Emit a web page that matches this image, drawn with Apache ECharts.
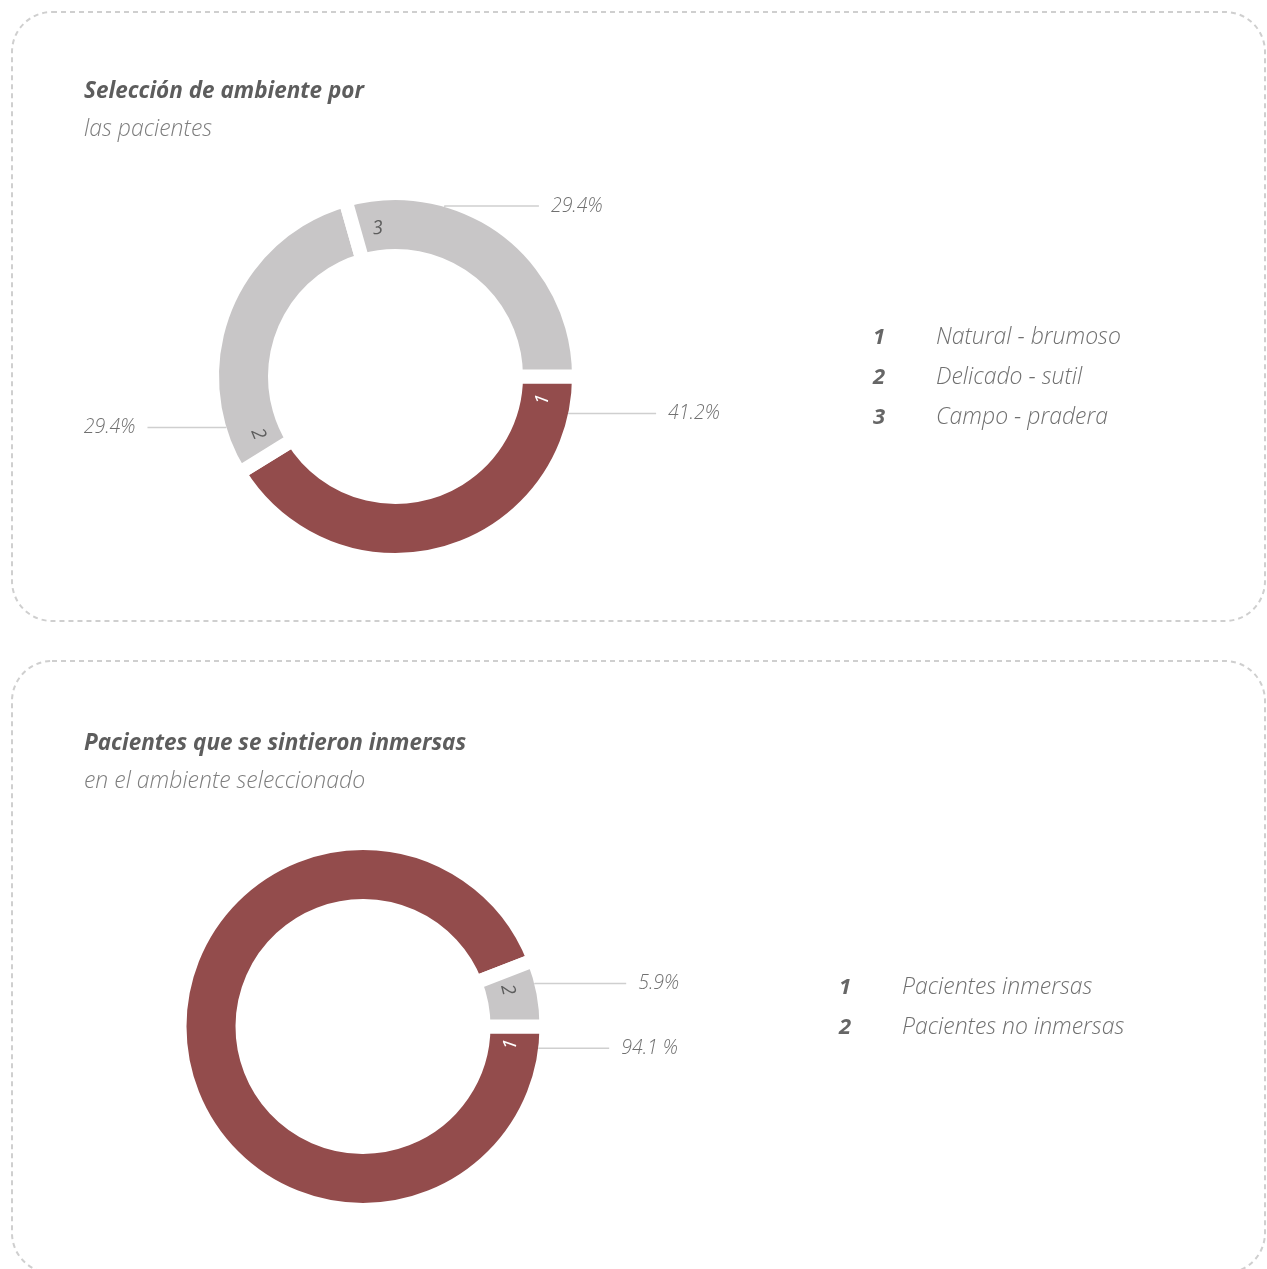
<!DOCTYPE html>
<html>
<head>
<meta charset="utf-8">
<title>Ambiente e inmersión</title>
<script src="https://cdn.jsdelivr.net/npm/echarts@6/dist/echarts.min.js"></script>
<style>
  html, body { margin: 0; padding: 0; background: #ffffff; }
  #chart { width: 1267px; height: 1269px; }
</style>
</head>
<body>
<div id="chart"></div>
<script>
// Selección de ambiente
const ambienteCats = ['Natural - brumoso', 'Delicado - sutil', 'Campo - pradera'];
const ambienteVals = [41.2, 29.4, 29.4];
const ambienteSuffix = ['%', '%', '%'];

// Inmersión en el ambiente seleccionado
const inmersionCats = ['Pacientes inmersas', 'Pacientes no inmersas'];
const inmersionVals = [94.1, 5.9];
const inmersionSuffix = [' %', '%'];

const FONT = '"Open Sans", "Noto Sans", sans-serif';
const RED = '#934c4c';
const GREY = '#c8c6c7';
const R_IN = 127.5, R_OUT = 176.5, GAP = 14;

// Builds the ring plus two transparent label rings (numbers inside, percentages outside)
function donut(key, center, cats, vals, colors, numColors, numOffsetDeg, anchorDeg, leadLen, suffix) {
  const total = vals.reduce((a, b) => a + b, 0);
  const deg = d => d / 360 * total;
  const series = [];
  series.push({
    type: 'pie', name: key, center: center, z: 2,
    radius: [R_IN - GAP / 2, R_OUT + GAP / 2],
    startAngle: 0, clockwise: true, avoidLabelOverlap: false,
    label: { show: false }, labelLine: { show: false },
    emphasis: { scale: false },
    itemStyle: { borderColor: '#ffffff', borderWidth: GAP },
    data: cats.map((c, i) => ({ name: c, value: vals[i], itemStyle: { color: colors[i] } }))
  });
  const numData = [];
  cats.forEach((c, i) => {
    const off = deg(numOffsetDeg * 2);
    numData.push({ name: key + '-n' + i, value: off,
      label: { show: true, formatter: String(i + 1), color: numColors[i] } });
    numData.push({ name: key + '-nr' + i, value: vals[i] - off, label: { show: false } });
  });
  series.push({
    type: 'pie', name: key + '-num', center: center, silent: true, z: 3,
    radius: [R_IN, R_IN + 37],
    startAngle: 0, clockwise: true, avoidLabelOverlap: false,
    itemStyle: { color: 'transparent' }, labelLine: { show: false },
    emphasis: { disabled: true },
    label: { position: 'inside', rotate: 'tangential', fontFamily: FONT,
      fontStyle: 'italic', fontWeight: 'normal', fontSize: 19 },
    data: numData
  });
  const pctData = [];
  cats.forEach((c, i) => {
    const off = deg(anchorDeg[i] * 2);
    pctData.push({ name: key + '-p' + i, value: off,
      label: { show: true, formatter: () => vals[i].toFixed(1) + suffix[i] },
      labelLine: { show: true, length: 1, length2: leadLen[i] } });
    pctData.push({ name: key + '-pr' + i, value: vals[i] - off,
      label: { show: false }, labelLine: { show: false } });
  });
  series.push({
    type: 'pie', name: key + '-pct', center: center, silent: true, z: 3,
    radius: [R_IN, R_OUT],
    startAngle: 0, clockwise: true, avoidLabelOverlap: false,
    itemStyle: { color: 'transparent' },
    emphasis: { disabled: true },
    label: { position: 'outside', distanceToLabelLine: 12, fontFamily: FONT,
      fontStyle: 'italic', fontWeight: 300, fontSize: 19.5, color: '#707070' },
    labelLine: { lineStyle: { color: '#cfcfcf', width: 1.5 }, minTurnAngle: 0 },
    data: pctData
  });
  return series;
}

const legendRich = {
  n: { width: 63, fontFamily: FONT, fontStyle: 'italic', fontWeight: 'bold', fontSize: 22, color: '#666666', lineHeight: 23 },
  t: { fontFamily: FONT, fontStyle: 'italic', fontWeight: 300, fontSize: 23, color: '#707070', lineHeight: 23 }
};

function legendFor(cats, left, top) {
  return {
    orient: 'vertical', left: left, top: top, itemWidth: 0, itemHeight: 0, itemGap: 17,
    selectedMode: false, padding: 0,
    data: cats.map(c => ({ name: c, icon: 'rect' })),
    formatter: name => '{n|' + (cats.indexOf(name) + 1) + '}{t|' + name + '}',
    textStyle: { rich: legendRich }
  };
}

function titleFor(text, sub, top) {
  return {
    text: text, subtext: sub, left: 84, top: top, padding: 0, itemGap: 11,
    textStyle: { fontFamily: FONT, fontStyle: 'italic', fontWeight: 'bold', fontSize: 22.5, color: '#5d5d5d', lineHeight: 26 },
    subtextStyle: { fontFamily: FONT, fontStyle: 'italic', fontWeight: 300, fontSize: 23, color: '#7e7e7e', lineHeight: 26 }
  };
}

const cardStyle = { fill: 'none', stroke: '#cfcfcf', lineWidth: 2, lineDash: [5, 4] };

const chart = echarts.init(document.getElementById('chart'), null, { renderer: 'canvas' });
chart.setOption({
  backgroundColor: '#ffffff',
  animation: false,
  title: [
    titleFor('Selección de ambiente por', 'las pacientes', 79),
    titleFor('Pacientes que se sintieron inmersas', 'en el ambiente seleccionado', 731)
  ],
  legend: [
    legendFor(ambienteCats, 867, 326),
    legendFor(inmersionCats, 833, 976)
  ],
  graphic: [
    { type: 'rect', silent: true, z: -1, shape: { x: 12, y: 12, width: 1253, height: 609, r: 40 }, style: cardStyle },
    { type: 'rect', silent: true, z: -1, shape: { x: 12, y: 661, width: 1253, height: 612, r: 40 }, style: cardStyle }
  ],
  series: [
    ...donut('ambiente', [395.5, 376.5], ambienteCats, ambienteVals,
      [RED, GREY, GREY], ['#ffffff', '#5d5d5d', '#5d5d5d'], 9, [12, 15, 32], [87, 78, 94], ambienteSuffix),
    ...donut('inmersion', [363, 1026.5], inmersionCats, inmersionVals,
      [RED, GREY], ['#ffffff', '#5d5d5d'], 7, [7, 7.2], [70, 91], inmersionSuffix)
  ]
});
</script>
</body>
</html>
